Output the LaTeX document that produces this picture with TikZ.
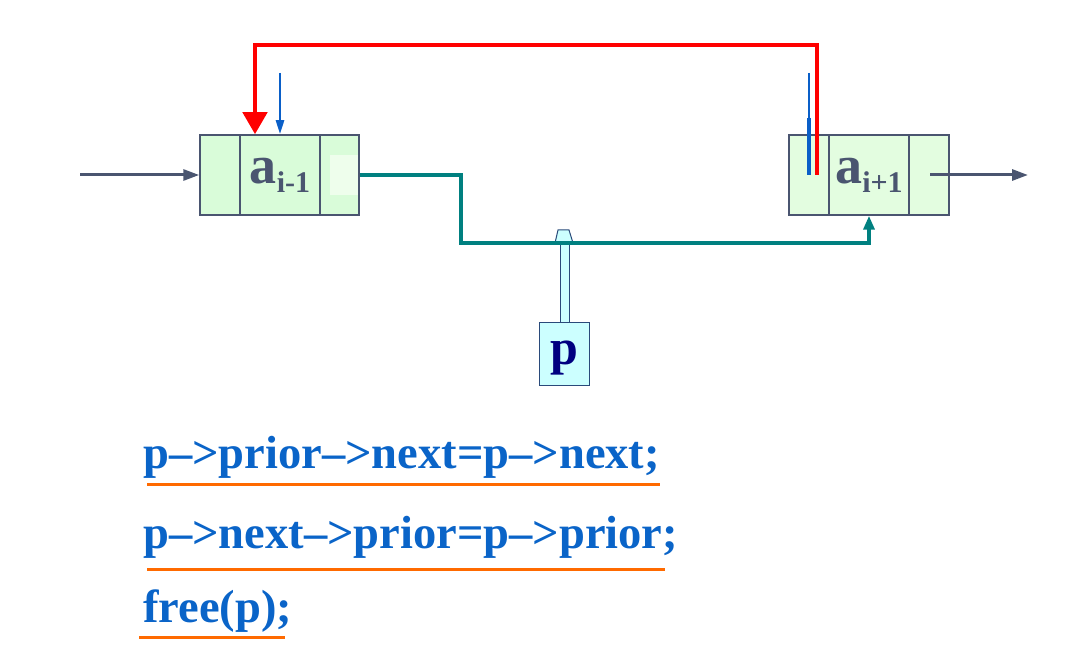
\documentclass[tikz,border=0pt]{standalone}
\usepackage{fontspec}
\setmainfont{Liberation Serif}
\usetikzlibrary{arrows.meta,calc}
\definecolor{slate}{HTML}{4A5570}
\definecolor{cellL}{HTML}{D9FCD9}
\definecolor{cellR}{HTML}{E3FDE0}
\definecolor{tealc}{HTML}{008080}
\definecolor{codeblue}{HTML}{0A64C8}
\definecolor{ptrblue}{HTML}{0A5FC8}
\definecolor{uline}{HTML}{FF6A00}
\definecolor{pfill}{HTML}{CCFFFF}
\definecolor{pborder}{HTML}{2A4A7A}
\definecolor{navy}{HTML}{000080}
\tikzset{
  cell/.style={draw=slate, line width=1.5pt, inner sep=0pt, minimum height=80pt},
  lcell/.style={cell, fill=cellL},
  rcell/.style={cell, fill=cellR},
  listarrow/.style={draw=slate, line width=3pt, -{Triangle[length=16pt,width=11pt]}},
  redline/.style={draw=red, line width=4.5pt, -{Triangle[length=22pt,width=24pt]}},
  blueptr/.style={draw=ptrblue, line width=2.5pt, -{Triangle[length=14pt,width=8pt]}},
  tealline/.style={draw=tealc, line width=3.5pt, -{Triangle[length=14pt,width=11pt]}},
  code/.style={text=codeblue, font=\bfseries\fontsize{46.5}{50}\selectfont, inner sep=0pt, anchor=base west},
  uline/.style={draw=uline, line width=3pt},
  elem/.style={text=slate, font=\bfseries}
}
\newcommand{\elemtext}[1]{{\fontsize{54}{54}\selectfont a}\raisebox{-9pt}{\fontsize{30}{30}\selectfont #1}}
\begin{document}
\begin{tikzpicture}[x=1pt,y=-1pt]
\useasboundingbox (0,0) rectangle (1087,663);
% left node
\node[lcell, minimum width=40pt] (l0) at (220,175) {};
\node[lcell, minimum width=80pt] (l1) at (280,175) {};
\node[lcell, minimum width=39pt] (l2) at (339.5,175) {};
\fill[cellR!60!white] (330,155) rectangle (358,195);
\node[elem] (l1t) at (l1.center) {\elemtext{i-1}};
% right node
\node[rcell, minimum width=40pt] (r0) at (809,175) {};
\node[rcell, minimum width=80pt] (r1) at (869,175) {};
\node[rcell, minimum width=40pt] (r2) at (929,175) {};
\node[elem] (r1t) at (r1.center) {\elemtext{i+1}};
% p pointer
\filldraw[fill=pfill, draw=pborder, line width=1pt] (555,243) -- (558,230) -- (569,230) -- (573,243) -- cycle;
\filldraw[fill=pfill, draw=pborder, line width=1pt] (560,243) rectangle (569,322);
\node[draw=pborder, fill=pfill, line width=1pt, minimum width=50pt, minimum height=63pt, inner sep=0pt] (p) at (564,353.5) {};
\node[text=navy, font=\bfseries\fontsize{50}{50}\selectfont, inner sep=0pt] (pt) at (564,358) {p};
% coordinates
\coordinate (inL) at (80,175);
\coordinate (outR) at (930,175);
\coordinate (outEnd) at (1028,175);
\coordinate (redstart) at (817,175);
\coordinate (redtop) at (255,45);
\coordinate (bltop) at (280,73);
\coordinate (brtop) at (809,73);
\coordinate (brmid) at (809,118);
\coordinate (brbot) at (809,175);
\coordinate (tealbend) at (461,243);
% connectors
\draw[listarrow] (inL) -- (l0.west);
\draw[listarrow] (outR) -- (outEnd);
\draw[tealline] (l2.east) -| (tealbend) -| (r1.south);
\draw[blueptr] (bltop) -- (l1.north);
\draw[draw=ptrblue, line width=2pt] (brtop) -- (brmid);
\draw[draw=ptrblue, line width=4pt] (brmid) -- (brbot);
\draw[redline] (redstart) |- (redtop) -- (redtop |- l1.north);
% code
\node[code] (c1) at (143,468) {p–>prior–>next=p–>next;};
\node[code] (c2) at (143,548) {p–>next–>prior=p–>prior;};
\node[code] (c3) at (143,622) {free(p);};
\draw[uline] (147,484) -- (660,484);
\draw[uline] (147,569) -- (665,569);
\draw[uline] (139,637) -- (285,637);
\end{tikzpicture}
\end{document}
